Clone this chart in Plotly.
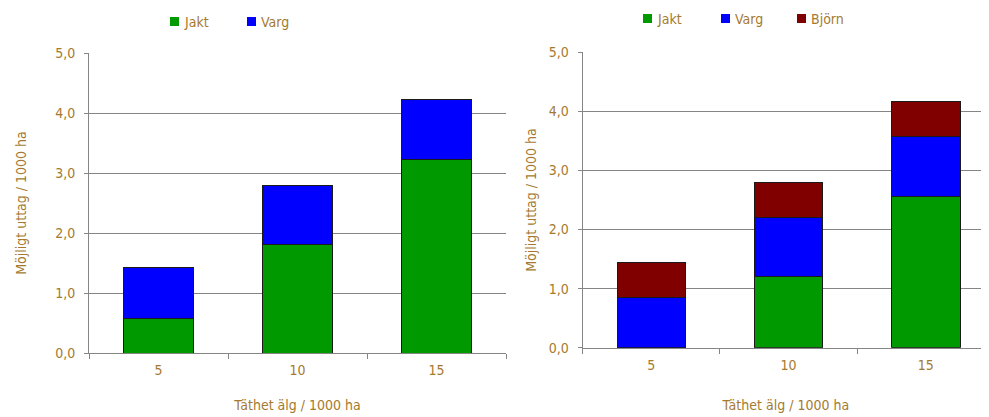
import plotly.graph_objects as go

categories = ["5", "10", "15"]

left_jakt = [0.57, 1.81, 3.22]
left_varg = [0.85, 0.99, 1.01]

right_jakt = [0.0, 1.21, 2.56]
right_varg = [0.85, 0.99, 1.01]
right_bjorn = [0.59, 0.59, 0.59]

y_ticks = [0, 1, 2, 3, 4, 5]
y_ticklabels = ["0,0", "1,0", "2,0", "3,0", "4,0", "5,0"]

GREEN = "#009900"
BLUE = "#0000FF"
MAROON = "#800000"
TXT = "#A57A30"
GRID = "#858585"
FONT = "DejaVu Sans Condensed, Liberation Sans Narrow, sans-serif"

# page body has an 8px margin, so the figure is drawn 8px in from the window edge
OFF = 8
W, H = 981, 409


def px_x(x):
    return (x - OFF) / W


def px_y(y):
    return (H - (y - OFF)) / H


fig = go.Figure()


def bar(name, y, color, xa, ya):
    return go.Bar(
        name=name, x=categories, y=y,
        marker=dict(color=color, line=dict(color="#1a1a1a", width=1)),
        xaxis=xa, yaxis=ya, width=0.5, showlegend=False,
    )


fig.add_trace(bar("Jakt", left_jakt, GREEN, "x", "y"))
fig.add_trace(bar("Varg", left_varg, BLUE, "x", "y"))
fig.add_trace(bar("Jakt", right_jakt, GREEN, "x2", "y2"))
fig.add_trace(bar("Varg", right_varg, BLUE, "x2", "y2"))
fig.add_trace(bar("Björn", right_bjorn, MAROON, "x2", "y2"))

axfont = dict(family=FONT, size=14, color=TXT)


def xaxis_cfg(standoff):
    return dict(
        type="category", tickson="boundaries", ticks="outside", ticklen=5, tickcolor=GRID,
        showline=True, linecolor=GRID, linewidth=1, showgrid=False, tickfont=axfont,
        ticklabelstandoff=4,
        title=dict(text="Täthet älg / 1000 ha", font=axfont, standoff=standoff),
        automargin=False,
    )


def yaxis_cfg(standoff):
    return dict(
        range=[0, 5], tickvals=y_ticks, ticktext=y_ticklabels, ticks="outside", ticklen=4,
        tickcolor=GRID, showline=True, linecolor=GRID, linewidth=1, showgrid=True,
        gridcolor=GRID, gridwidth=1, tickfont=axfont, zeroline=False, ticklabelstandoff=6,
        title=dict(text="Möjligt uttag / 1000 ha", font=axfont, standoff=standoff),
        automargin=False,
    )


# manual legends (square + label), matching the small swatches of the original
legend_left = [("Jakt", GREEN, 170, 17), ("Varg", BLUE, 247, 17)]
legend_right = [("Jakt", GREEN, 643, 14), ("Varg", BLUE, 721, 14), ("Björn", MAROON, 797, 14)]

shapes = []
annotations = []
for name, color, x0, y0 in legend_left + legend_right:
    shapes.append(dict(type="rect", xref="paper", yref="paper",
                       x0=px_x(x0), x1=px_x(x0 + 9), y0=px_y(y0 + 9), y1=px_y(y0),
                       fillcolor=color, line=dict(width=0)))
    annotations.append(dict(text=name, xref="paper", yref="paper", x=px_x(x0 + 12),
                            y=px_y(y0 + 4.5), xanchor="left", yanchor="middle",
                            showarrow=False, font=axfont))

fig.update_layout(
    width=W, height=H, barmode="stack", plot_bgcolor="white", paper_bgcolor="white",
    margin=dict(l=0, r=0, t=0, b=0),
    xaxis=dict(domain=[px_x(89), px_x(506)], anchor="y", range=[-0.5, 2.5], **xaxis_cfg(23)),
    yaxis=dict(domain=[px_y(353), px_y(53)], anchor="x", **yaxis_cfg(25)),
    xaxis2=dict(domain=[px_x(582.7), 1.0], anchor="y2", range=[-0.5, 2.46], **xaxis_cfg(28)),
    yaxis2=dict(domain=[px_y(347.7), px_y(52.3)], anchor="x2", **yaxis_cfg(8)),
    shapes=shapes, annotations=annotations, showlegend=False,
    bargap=0.5,
)

fig.write_html("out.html")
